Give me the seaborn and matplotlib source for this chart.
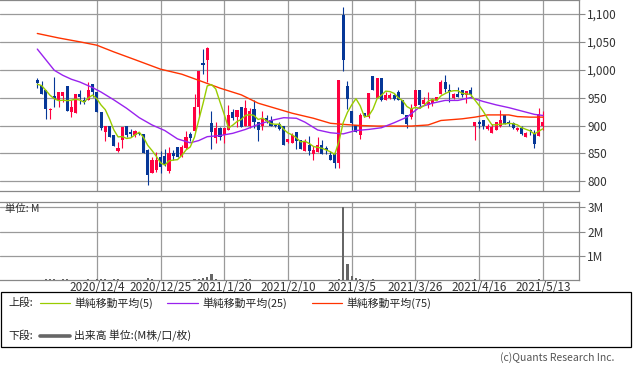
import numpy as np
import pandas as pd
import matplotlib
matplotlib.use("Agg")
import matplotlib.pyplot as plt
from matplotlib.lines import Line2D
from matplotlib.patches import Rectangle
import seaborn as sns

# x axis: trading-day index, labels every 15 days
tick_idx = [14, 29, 44, 59, 74, 89, 104, 119]
tick_labels = ["2020/12/4", "2020/12/25", "2021/1/20", "2021/2/10",
               "2021/3/5", "2021/3/26", "2021/4/16", "2021/5/13"]

# daily prices (120 trading days)
opens = [981, 972, 963, 927, 953, 945, 953, 971, 924, 922,
         956, 945, 945, 974, 960, 924, 889, 899, 883, 855,
         874, 900, 888, 883, 886, 885, 856, 815, 821, 843,
         845, 818, 851, 862, 845, 860, 884, 890, 933, 1012,
         1018, 904, 877, 896, 883, 892, 924, 915, 934, 900,
         899, 930, 906, 900, 914, 909, 901, 902, 899, 871,
         869, 889, 874, 855, 865, 849, 853, 865, 859, 847,
         851, 832, 1099, 970, 926, 901, 883, 923, 915, 988,
         950, 986, 946, 950, 954, 960, 945, 918, 915, 935,
         963, 939, 936, 940, 946, 957, 978, 963, 950, 956,
         963, 954, 964, 899, 906, 910, 893, 886, 892, 899,
         918, 906, 905, 892, 896, 880, 892, 887, 881, 899]
highs = [986, 979, 963, 932, 987, 960, 960, 971, 945, 956,
         963, 952, 978, 974, 960, 924, 900, 899, 883, 871,
         898, 900, 894, 892, 887, 885, 858, 843, 853, 855,
         858, 862, 856, 862, 865, 890, 889, 957, 997, 1038,
         1041, 926, 906, 897, 896, 936, 930, 928, 934, 945,
         932, 945, 906, 926, 918, 917, 902, 906, 899, 875,
         886, 889, 874, 875, 881, 863, 880, 874, 863, 855,
         853, 982, 1113, 980, 926, 901, 923, 923, 958, 988,
         986, 986, 960, 958, 956, 963, 946, 918, 939, 963,
         963, 951, 960, 950, 952, 981, 990, 975, 958, 969,
         963, 962, 969, 906, 910, 910, 903, 903, 906, 927,
         918, 909, 906, 898, 899, 888, 893, 892, 932, 926]
lows = [967, 956, 911, 912, 934, 934, 943, 926, 915, 922,
        939, 939, 945, 952, 924, 892, 873, 880, 863, 853,
        859, 880, 880, 880, 883, 851, 794, 815, 817, 815,
        828, 815, 838, 843, 843, 858, 873, 890, 916, 992,
        978, 857, 868, 874, 868, 892, 909, 898, 898, 899,
        896, 895, 873, 892, 904, 899, 898, 892, 865, 868,
        869, 857, 857, 855, 847, 839, 853, 849, 849, 838,
        823, 823, 998, 930, 892, 889, 875, 915, 914, 964,
        950, 944, 945, 948, 946, 945, 920, 895, 912, 934,
        932, 936, 932, 935, 945, 956, 960, 942, 948, 951,
        951, 940, 952, 874, 895, 893, 892, 886, 892, 898,
        902, 900, 893, 891, 883, 880, 883, 859, 881, 892]
closes = [977, 956, 930, 930, 947, 960, 960, 926, 934, 956,
          952, 942, 963, 960, 924, 895, 900, 880, 863, 860,
          898, 883, 885, 890, 884, 851, 812, 839, 839, 825,
          830, 850, 846, 843, 862, 880, 877, 934, 997, 1008,
          1039, 889, 895, 880, 896, 918, 914, 928, 898, 932,
          926, 906, 892, 911, 908, 900, 900, 893, 865, 875,
          883, 873, 857, 871, 855, 856, 865, 849, 856, 838,
          833, 982, 1017, 948, 905, 889, 918, 917, 958, 964,
          986, 946, 954, 954, 948, 946, 920, 902, 932, 963,
          936, 945, 942, 948, 952, 978, 966, 960, 956, 952,
          954, 962, 954, 906, 903, 900, 899, 898, 906, 909,
          902, 904, 895, 896, 884, 887, 890, 867, 920, 907]
pre_closes = [968, 972, 975, 978]  # closes before the window, for MA5

# longer moving averages at these days
ma25_idx = [0, 2, 4, 6, 8, 10, 13, 15, 18, 21, 24, 27, 30, 33, 36, 38, 40,
            43, 46, 49, 52, 55, 58, 61, 63, 66, 69, 72, 75, 78, 81, 84, 87,
            90, 93, 96, 99, 102, 105, 108, 111, 114, 117, 119]
ma25 = [1037, 1018, 999, 990, 983, 978, 968, 960, 946, 931, 914, 901, 891,
        876, 869, 873, 880, 882, 886, 893, 902, 909, 914, 913, 906, 892,
        887, 885, 891, 893, 896, 905, 915, 933, 940, 945, 945, 950, 943,
        937, 932, 926, 920, 918]
ma75_idx = [0, 5, 10, 14, 18, 23, 29, 34, 38, 43, 48, 52, 56, 60, 65, 69,
            72, 76, 80, 84, 88, 92, 95, 100, 103, 106, 111, 113, 116, 119]
ma75 = [1065, 1057, 1050, 1044, 1032, 1018, 1001, 992, 981, 967, 955, 940,
        931, 922, 913, 904, 902, 900, 899, 899, 899, 901, 909, 912, 915,
        919, 919, 916, 915, 915]

# volume in millions
volume = [0.02, 0.01, 0.05, 0.03, 0.04, 0.02, 0.03, 0.04, 0.02, 0.02,
          0.01, 0.01, 0.05, 0.01, 0.04, 0.05, 0.04, 0.01, 0.05, 0.04,
          0.02, 0.01, 0.02, 0.01, 0.01, 0.02, 0.10, 0.06, 0.01, 0.01,
          0.01, 0.01, 0.01, 0.01, 0.01, 0.02, 0.01, 0.06, 0.06, 0.07,
          0.14, 0.23, 0.06, 0.01, 0.01, 0.01, 0.01, 0.01, 0.01, 0.05,
          0.05, 0.01, 0.01, 0.01, 0.01, 0.01, 0.01, 0.01, 0.01, 0.01,
          0.01, 0.01, 0.01, 0.01, 0.01, 0.01, 0.01, 0.01, 0.01, 0.02,
          0.02, 0.05, 3.00, 0.66, 0.17, 0.07, 0.06, 0.02, 0.02, 0.05,
          0.02, 0.02, 0.01, 0.01, 0.01, 0.01, 0.01, 0.01, 0.01, 0.02,
          0.01, 0.01, 0.01, 0.01, 0.01, 0.02, 0.02, 0.01, 0.01, 0.01,
          0.01, 0.01, 0.01, 0.05, 0.01, 0.01, 0.01, 0.01, 0.01, 0.01,
          0.01, 0.01, 0.01, 0.01, 0.01, 0.01, 0.01, 0.01, 0.05, 0.02]

price_ticks = [800, 850, 900, 950, 1000, 1050, 1100]
vol_ticks = [1, 2, 3]
vol_tick_labels = ["1M", "2M", "3M"]

UP, DOWN = "#ff0040", "#063797"
C5, C25, C75 = "#99cc00", "#9922ee", "#ff3300"
GRID = "#9a9a9a"
W, H = 633, 372

sns.set_style("white")
plt.rcParams['font.family'] = ['Noto Sans CJK JP', 'DejaVu Sans']

df = pd.DataFrame({"open": opens, "high": highs, "low": lows, "close": closes})
df["i"] = np.arange(len(df))
df["ma5"] = pd.Series(pre_closes + closes).rolling(5).mean().iloc[4:].values
ma25_df = pd.DataFrame({"i": ma25_idx, "ma": ma25})
ma75_df = pd.DataFrame({"i": ma75_idx, "ma": ma75})

def fx(x):
    return x / W

def fy(y):
    return 1 - y / H

fig = plt.figure(figsize=(W / 100, H / 100), dpi=100)
ax = fig.add_axes([0, fy(190.5), fx(579), 190.5 / H])
axv = fig.add_axes([0, fy(280), fx(579), (280 - 201.7) / H])

# candles
up = df["close"] >= df["open"]
for mask, col in [(up, UP), (~up, DOWN)]:
    d = df[mask]
    ax.vlines(d["i"], d["low"], d["high"], color=col, lw=0.8, zorder=3)
    body = (d["close"] - d["open"]).abs().clip(lower=1.2)
    ax.bar(d["i"], body, bottom=d[["open", "close"]].min(axis=1),
           width=0.72, color=col, linewidth=0, zorder=3)

sns.lineplot(data=ma75_df, x="i", y="ma", ax=ax, color=C75, lw=1.0, zorder=4)
sns.lineplot(data=ma25_df, x="i", y="ma", ax=ax, color=C25, lw=1.0, zorder=4)
sns.lineplot(data=df, x="i", y="ma5", ax=ax, color=C5, lw=1.0, zorder=5)

xlim = (-8.78, 127.5)
ax.set_xlim(*xlim)
ax.set_ylim(783.5, 1125)
ax.set_xticks(tick_idx)
ax.set_xticklabels([])
ax.set_yticks(price_ticks)
ax.set_yticklabels([f"{v:,}" for v in price_ticks])
ax.yaxis.tick_right()
ax.tick_params(axis="y", length=4, width=0.8, color="#888888", pad=2,
               labelsize=8.5, labelcolor="#333333")
ax.tick_params(axis="x", length=0)
ax.grid(True, color=GRID, lw=0.9)
ax.set_xlabel("")
ax.set_ylabel("")

# volume
axv.bar(df["i"], volume, width=0.5, color="#666666", linewidth=0, zorder=3)
axv.set_xlim(*xlim)
axv.set_ylim(0, 3.23)
axv.set_yticks(vol_ticks)
axv.set_yticklabels(vol_tick_labels)
axv.yaxis.tick_right()
axv.set_xticks(tick_idx)
axv.set_xticklabels(tick_labels)
axv.tick_params(axis="y", length=4, width=0.8, color="#888888", pad=2,
                labelsize=8.5, labelcolor="#333333")
axv.tick_params(axis="x", length=0, pad=1, labelsize=8.5, labelcolor="#333333")
axv.grid(True, color=GRID, lw=0.9)
axv.text(0.008, 0.97, "単位: M", transform=axv.transAxes, ha="left", va="top",
         fontsize=7.5, color="#333333")

for a in (ax, axv):
    a.spines["left"].set_visible(False)
    for s in ("top", "bottom", "right"):
        a.spines[s].set_color("#888888")
        a.spines[s].set_linewidth(0.9)

# legend box
fig.patches.append(Rectangle((fx(1), fy(347)), fx(630), (347 - 292) / H,
                             transform=fig.transFigure, fill=False,
                             edgecolor="black", lw=0.9))
fs = 7.8
fig.text(fx(8), fy(303), "上段:", fontsize=fs, va="center", color="#222222")
for x0, x1, col, lab in [(40, 70, C5, "単純移動平均(5)"),
                         (167, 198, C25, "単純移動平均(25)"),
                         (312, 342, C75, "単純移動平均(75)")]:
    fig.add_artist(Line2D([fx(x0), fx(x1)], [fy(303), fy(303)], color=col, lw=0.9))
    fig.text(fx(x1 + 4), fy(303), lab, fontsize=fs, va="center", color="#222222")
fig.text(fx(8), fy(336), "下段:", fontsize=fs, va="center", color="#222222")
fig.add_artist(Line2D([fx(40), fx(70)], [fy(336), fy(336)], color="#666666", lw=2.6))
fig.text(fx(74), fy(336), "出来高 単位:(M株/口/枚)", fontsize=fs, va="center",
         color="#222222")

fig.text(fx(614), fy(358), "(c)Quants Research Inc.", fontsize=7.5, ha="right",
         va="center", color="#555555")

fig.savefig("out.png", dpi=100)
